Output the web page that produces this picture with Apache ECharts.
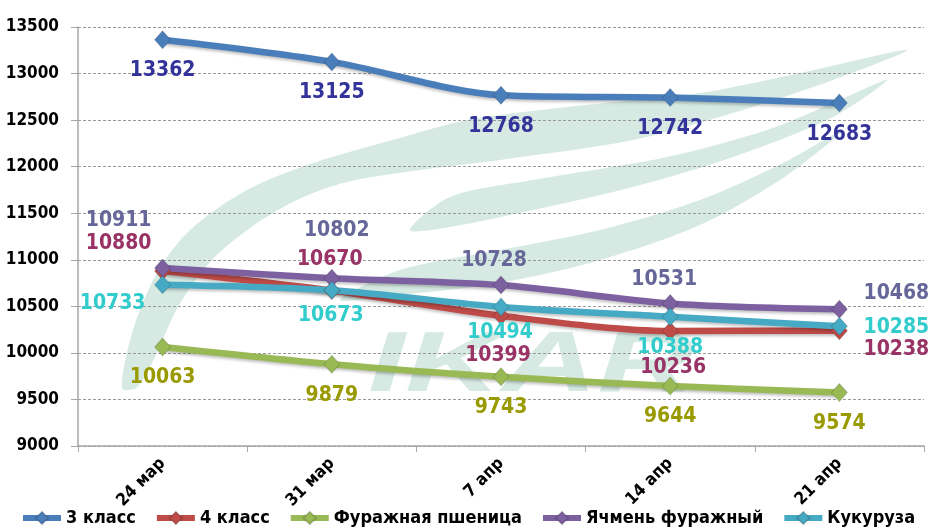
<!DOCTYPE html>
<html>
<head>
<meta charset="utf-8">
<script src="https://cdn.jsdelivr.net/npm/echarts@6/dist/echarts.min.js"></script>
<style>
html,body{margin:0;padding:0;background:#fff;}
#chart{width:932px;height:529px;}
</style>
</head>
<body>
<div id="chart"></div>
<script>
// ---- data ----
var categories = ['24 мар', '31 мар', '7 апр', '14 апр', '21 апр'];
var seriesNames = ['3 класс', '4 класс', 'Фуражная пшеница', 'Ячмень фуражный', 'Кукуруза'];
var class3 = [13362, 13125, 12768, 12742, 12683];
var class4 = [10880, 10670, 10399, 10236, 10238];
var feedWheat = [10063, 9879, 9743, 9644, 9574];
var feedBarley = [10911, 10802, 10728, 10531, 10468];
var corn = [10733, 10673, 10494, 10388, 10285];
var yTicks = {min: 9000, max: 13500, interval: 500};

// ---- label offsets (styling, not data) ----
var offClass3 = [[0,31],[0,31],[0,31],[0,31],[0,31]];
var offClass4 = [[-44,-27],[-2,-31],[-3,40],[3,37],[57,19]];
var offWheat = [[0,31],[0,31],[0,31],[0,31],[0,31]];
var offBarley = [[-44,-48],[5,-48],[-7,-25],[-6,-24],[57,-16]];
var offCorn = [[-50,19],[-1,25],[-1,26],[0,31],[57,1]];

var FONT = '"DejaVu Sans Condensed", "Liberation Sans Narrow", "DejaVu Sans", sans-serif';

function mkData(vals, offs) {
  return vals.map(function (v, i) {
    return {value: v, label: {offset: offs[i]}};
  });
}
function mkSeries(name, vals, offs, lineColor, labelColor) {
  return {
    name: name,
    type: 'line',
    smooth: 0.3,
    symbol: 'diamond',
    symbolSize: [16, 18],
    data: mkData(vals, offs),
    lineStyle: {width: 6.5, color: lineColor, shadowBlur: 3, shadowColor: 'rgba(0,0,0,0.25)', shadowOffsetY: 2},
    itemStyle: {color: lineColor, borderColor: 'rgba(0,0,0,0.15)', borderWidth: 1},
    label: {
      show: true,
      position: 'inside',
      align: 'center',
      verticalAlign: 'middle',
      color: labelColor,
      fontFamily: FONT,
      fontWeight: 'bold',
      fontSize: 21
    },
    emphasis: {disabled: true},
    z: 3
  };
}

// decorative watermark outlines (background logo, not data)
var wmOuter = [[122,388],[133,330],[157,273],[190,230],[247,190],[313,163],[400,138],[467,120],[567,107],[700,93],[800,73],[907,50],
  [833,80],[733,113],[633,140],[500,160],[420,170],[347,182],[297,200],[250,228],[210,262],[178,307],[152,363],[136,388]];
var wmLeaf = [[410,230],[450,197],[533,180],[667,157],[767,130],[833,103],[887,80],
  [833,117],[733,157],[633,187],[533,210],[450,227]];
var wmBand = [[340,300],[400,270],[500,250],[600,230],[700,200],[783,163],[843,130],
  [783,178],[700,225],[600,260],[500,283],[400,295]];

var WM = '#D6EAE3';
var chart = echarts.init(document.getElementById('chart'), null, {renderer: 'canvas'});
chart.setOption({
  animation: false,
  backgroundColor: '#ffffff',
  graphic: [
    {type: 'polygon', z: -10, silent: true, shape: {points: wmOuter, smooth: 0.3}, style: {fill: WM}},
    {type: 'polygon', z: -10, silent: true, shape: {points: wmLeaf, smooth: 0.3}, style: {fill: WM}},
    {type: 'polygon', z: -10, silent: true, shape: {points: wmBand, smooth: 0.3}, style: {fill: WM}},
    {type: 'text', z: -10, silent: true, x: 368, y: 324, scaleX: 1.55,
      style: {text: 'IKAR', fill: WM, fontFamily: '"Liberation Sans", "DejaVu Sans", sans-serif', fontStyle: 'italic', fontWeight: 900, fontSize: 86}}
  ],
  grid: {left: 78, right: 8, top: 27, bottom: 83, containLabel: false},
  legend: {
    data: seriesNames,
    left: 20,
    bottom: 2,
    padding: 0,
    itemWidth: 38,
    itemHeight: 16,
    itemGap: 18,
    lineStyle: {width: 6},
    textStyle: {color: '#000', fontFamily: FONT, fontWeight: 'bold', fontSize: 18}
  },
  xAxis: {
    type: 'category',
    data: categories,
    boundaryGap: true,
    axisLine: {show: true, lineStyle: {color: '#A6A6A6', width: 1.5}},
    axisTick: {show: true, length: 6, lineStyle: {color: '#A6A6A6'}},
    axisLabel: {rotate: 45, margin: 15, color: '#000', fontFamily: FONT, fontWeight: 'bold', fontSize: 17},
    splitLine: {show: false}
  },
  yAxis: {
    type: 'value',
    min: yTicks.min,
    max: yTicks.max,
    interval: yTicks.interval,
    axisLine: {show: true, lineStyle: {color: '#A6A6A6', width: 1.5}},
    axisTick: {show: true, length: 7, lineStyle: {color: '#A6A6A6'}},
    axisLabel: {margin: 19, color: '#000', fontFamily: FONT, fontWeight: 'bold', fontSize: 17,
      formatter: function (v) { return String(v); }},
    splitLine: {show: true, lineStyle: {color: '#9A9A9A', type: [3, 2], width: 1}}
  },
  series: [
    mkSeries(seriesNames[0], class3, offClass3, '#4A7EBB', '#333399'),
    mkSeries(seriesNames[1], class4, offClass4, '#BE4B48', '#993366'),
    mkSeries(seriesNames[2], feedWheat, offWheat, '#98B954', '#999900'),
    mkSeries(seriesNames[3], feedBarley, offBarley, '#7D60A0', '#666699'),
    mkSeries(seriesNames[4], corn, offCorn, '#46AAC5', '#33CCCC')
  ]
});
</script>
</body>
</html>
